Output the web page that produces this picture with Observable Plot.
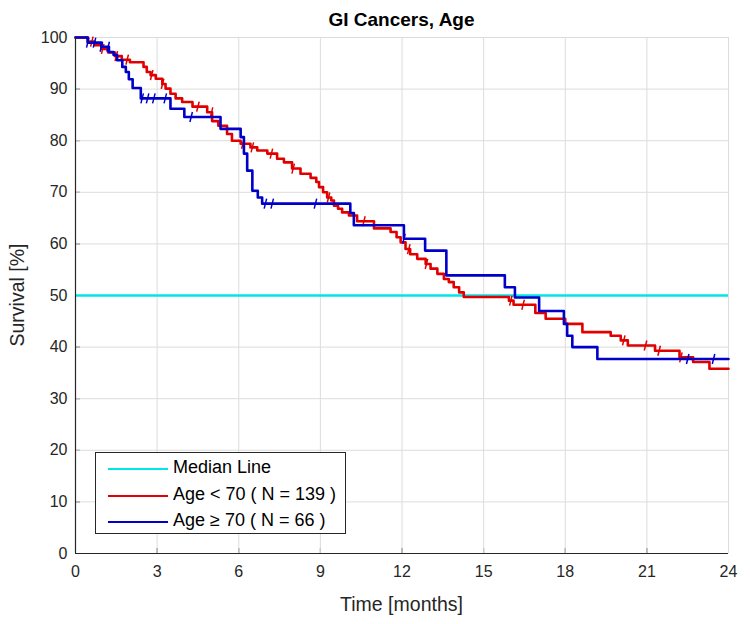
<!DOCTYPE html>
<html><head><meta charset="utf-8">
<script src="https://cdn.jsdelivr.net/npm/d3@7"></script>
<script src="https://cdn.jsdelivr.net/npm/@observablehq/plot@0.6"></script>
<style>
body{margin:0;background:#fff;font-family:Arial,"Liberation Sans",sans-serif;}
#wrap{position:relative;width:750px;height:624px;overflow:hidden;}
#title{position:absolute;left:75px;width:653px;top:9px;text-align:center;font-weight:bold;font-size:19px;color:#000;}
#xlab{position:absolute;left:75px;width:653px;top:593px;text-align:center;font-size:19.5px;color:#262626;}
#ylab{position:absolute;left:17px;top:295px;transform:translate(-50%,-50%) rotate(-90deg);white-space:nowrap;font-size:19.5px;color:#262626;}
#legend{position:absolute;left:95px;top:452px;width:249px;height:80px;border:1px solid #262626;background:#fff;}
.row{position:absolute;left:0;height:26px;width:100%;}
.sw{position:absolute;left:12px;top:12px;width:60px;height:0;border-top:2.5px solid;}
.lt{position:absolute;left:77px;top:1px;font-size:18px;color:#000;white-space:nowrap;}
</style></head><body>
<div id="wrap">
<div id="chart"></div>
<div id="title"></div>
<div id="xlab"></div>
<div id="ylab"></div>
<div id="legend"></div>
</div>
<script>
// ---- data ----
const titleText = "GI Cancers, Age";
const xLabel = "Time [months]";
const yLabel = "Survival [%]";
const xTicks = [0, 3, 6, 9, 12, 15, 18, 21, 24];
const yTicks = [0, 10, 20, 30, 40, 50, 60, 70, 80, 90, 100];
const medianValue = 50;
const seriesNames = ["Median Line", "Age < 70 ( N = 139 )", "Age \u2265 70 ( N = 66 )"];
const seriesColors = ["#00E6E6", "#E00000", "#0000C8"];

// Age < 70 : step times (months) and survival (%)
const redT = [0, 0.45, 0.7, 0.95, 1.2, 1.45, 1.7, 2.0, 2.5, 2.62, 2.76, 2.95, 3.19, 3.31, 3.49, 3.68, 3.92, 4.3, 4.84, 5.02, 5.25, 5.57, 5.75, 6.07, 6.43, 6.68, 7.05, 7.41, 7.66, 7.96, 8.27, 8.64, 8.85, 8.95, 9.1, 9.25, 9.4, 9.5, 9.65, 9.8, 10.05, 10.35, 10.97, 11.58, 11.8, 11.95, 12.13, 12.3, 12.56, 12.87, 13.05, 13.3, 13.54, 13.72, 13.9, 14.1, 14.27, 15.93, 16.1, 16.9, 17.28, 18.0, 18.63, 19.67, 20.04, 20.3, 21.3, 22.2, 22.7, 23.3, 24];
const redS = [100, 99.2, 98.5, 97.8, 97.1, 96.4, 95.7, 95.2, 94.3, 93.3, 92.7, 92.0, 91.0, 90.1, 89.1, 88.2, 87.5, 86.6, 85.5, 83.8, 82.9, 81.3, 80.0, 79.4, 78.7, 78.1, 77.5, 76.5, 75.8, 74.6, 73.6, 72.8, 72.0, 71.0, 70.0, 69.0, 68.4, 67.4, 66.8, 66.1, 65.5, 64.4, 63.0, 62.3, 61.3, 60.3, 59.0, 58.0, 57.1, 56.1, 55.2, 54.2, 53.2, 52.6, 51.6, 50.6, 49.7, 49.0, 48.2, 46.6, 45.5, 44.5, 42.9, 42.2, 41.3, 40.3, 39.3, 38.0, 37.1, 35.8, 35.8];
const redCensor = [0.6, 1.0, 1.5, 1.9, 2.8, 3.2, 4.5, 5.0, 6.15, 6.5, 7.2, 8.0, 9.3, 10.6, 12.25, 12.9, 16.0, 16.45, 20.15, 20.95, 21.45, 22.25];

// Age >= 70
const blueT = [0, 0.45, 0.95, 1.23, 1.4, 1.53, 1.72, 1.85, 1.96, 2.1, 2.4, 3.49, 4.0, 5.33, 6.07, 6.19, 6.31, 6.5, 6.7, 6.86, 10.1, 10.23, 12.07, 12.85, 13.63, 15.78, 16.15, 17.04, 17.95, 18.07, 18.26, 19.18, 24];
const blueS = [100, 99.0, 98.2, 97.2, 96.6, 95.6, 94.3, 93.3, 91.9, 90.2, 88.2, 86.2, 84.6, 82.3, 80.7, 77.5, 74.2, 70.3, 69.0, 67.8, 66.0, 63.6, 61.0, 58.7, 53.9, 51.6, 49.6, 47.0, 44.5, 42.2, 40.0, 37.7, 37.7];
const blueCensor = [0.45, 0.7, 0.95, 1.2, 2.45, 2.65, 2.88, 3.3, 4.25, 6.98, 7.23, 8.82, 12.07, 22.5, 23.45];

// ---- build ----
const rows = (T, S) => T.map((t, i) => ({t, s: S[i]}));
const valueAt = (T, S, t) => S[Math.max(0, d3.bisectRight(T, t) - 1)];
const censRows = (C, T, S) => C.map(t => ({t, s: valueAt(T, S, t)}));
const redRows = rows(redT, redS), blueRows = rows(blueT, blueS);
const redC = censRows(redCensor, redT, redS), blueC = censRows(blueCensor, blueT, blueS);

const tickSym = {draw(ctx, size) { const r = Math.sqrt(size / Math.PI); ctx.moveTo(-0.25 * r, r); ctx.lineTo(0.25 * r, -r); }};

const chart = Plot.plot({
  width: 750, height: 624,
  marginLeft: 75, marginRight: 22, marginTop: 37, marginBottom: 71,
  style: {fontFamily: 'Arial, "Liberation Sans", sans-serif', fontSize: "16px", color: "#262626", background: "white"},
  x: {domain: [0, 24], ticks: xTicks, tickSize: -5, tickPadding: 17, label: null},
  y: {domain: [0, 100], ticks: yTicks, tickSize: -5, tickPadding: 13, label: null},
  marks: [
    Plot.ruleX(xTicks, {stroke: "#dcdcdc", strokeWidth: 1}),
    Plot.ruleY(yTicks, {stroke: "#dcdcdc", strokeWidth: 1}),
    Plot.ruleY([medianValue], {stroke: seriesColors[0], strokeWidth: 2.5}),
    Plot.line(redRows, {x: "t", y: "s", curve: "step-after", stroke: seriesColors[1], strokeWidth: 2.6}),
    Plot.dot(redC, {x: "t", y: "s", symbol: tickSym, r: 5, stroke: seriesColors[1], strokeWidth: 1.5, fill: "none"}),
    Plot.line(blueRows, {x: "t", y: "s", curve: "step-after", stroke: seriesColors[2], strokeWidth: 2.6}),
    Plot.dot(blueC, {x: "t", y: "s", symbol: tickSym, r: 5, stroke: seriesColors[2], strokeWidth: 1.5, fill: "none"}),
    Plot.ruleX([0], {stroke: "#262626", strokeWidth: 1.2}),
    Plot.ruleY([0], {stroke: "#262626", strokeWidth: 1.2})
  ]
});
document.getElementById("chart").appendChild(chart);
document.getElementById("title").textContent = titleText;
document.getElementById("xlab").textContent = xLabel;
document.getElementById("ylab").textContent = yLabel;
const leg = document.getElementById("legend");
seriesNames.forEach((name, i) => {
  const r = document.createElement("div"); r.className = "row"; r.style.top = (3 + i * 26.5) + "px";
  const sw = document.createElement("div"); sw.className = "sw"; sw.style.borderTopColor = seriesColors[i];
  const lt = document.createElement("div"); lt.className = "lt"; lt.textContent = name;
  r.appendChild(sw); r.appendChild(lt); leg.appendChild(r);
});
</script>
</body></html>
